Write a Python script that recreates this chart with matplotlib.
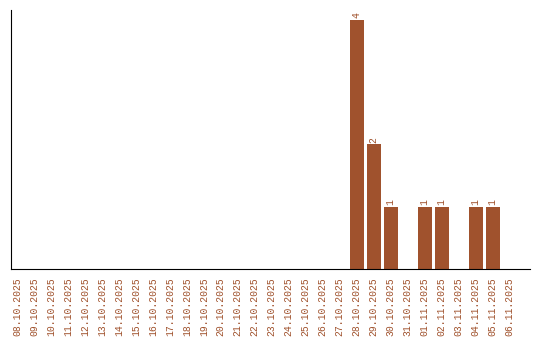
import matplotlib
matplotlib.use('Agg')
import matplotlib.pyplot as plt

# Daily counts per date
dates = ['08.10.2025', '09.10.2025', '10.10.2025', '11.10.2025', '12.10.2025',
         '13.10.2025', '14.10.2025', '15.10.2025', '16.10.2025', '17.10.2025',
         '18.10.2025', '19.10.2025', '20.10.2025', '21.10.2025', '22.10.2025',
         '23.10.2025', '24.10.2025', '25.10.2025', '26.10.2025', '27.10.2025',
         '28.10.2025', '29.10.2025', '30.10.2025', '31.10.2025', '01.11.2025',
         '02.11.2025', '03.11.2025', '04.11.2025', '05.11.2025', '06.11.2025']
counts = [0, 0, 0, 0, 0, 0, 0, 0, 0, 0,
          0, 0, 0, 0, 0, 0, 0, 0, 0, 0,
          4, 2, 1, 0, 1, 1, 0, 1, 1, 0]

color = '#A0522D'
plt.rcParams['font.family'] = ['Liberation Mono', 'DejaVu Sans Mono']

fig = plt.figure(figsize=(5.4, 3.4), dpi=100)
ax = fig.add_axes([0.0204, 0.2088, 0.9611, 0.7618])

x = range(len(dates))
ax.bar(x, counts, width=0.82, color=color)

for xi, v in zip(x, counts):
    if v > 0:
        ax.text(xi, v + 0.03, str(v), rotation=90, ha='center', va='bottom',
                fontsize=7, color=color)

ax.set_xticks(list(x))
ax.set_xticklabels(dates, rotation=90, fontsize=7, color=color)
ax.tick_params(axis='x', length=0, pad=6)
ax.set_yticks([])
ax.set_xlim(-0.35, 30.2)
ax.set_ylim(0, 4.16)
ax.spines['top'].set_visible(False)
ax.spines['right'].set_visible(False)

fig.savefig('out.png', dpi=100)
